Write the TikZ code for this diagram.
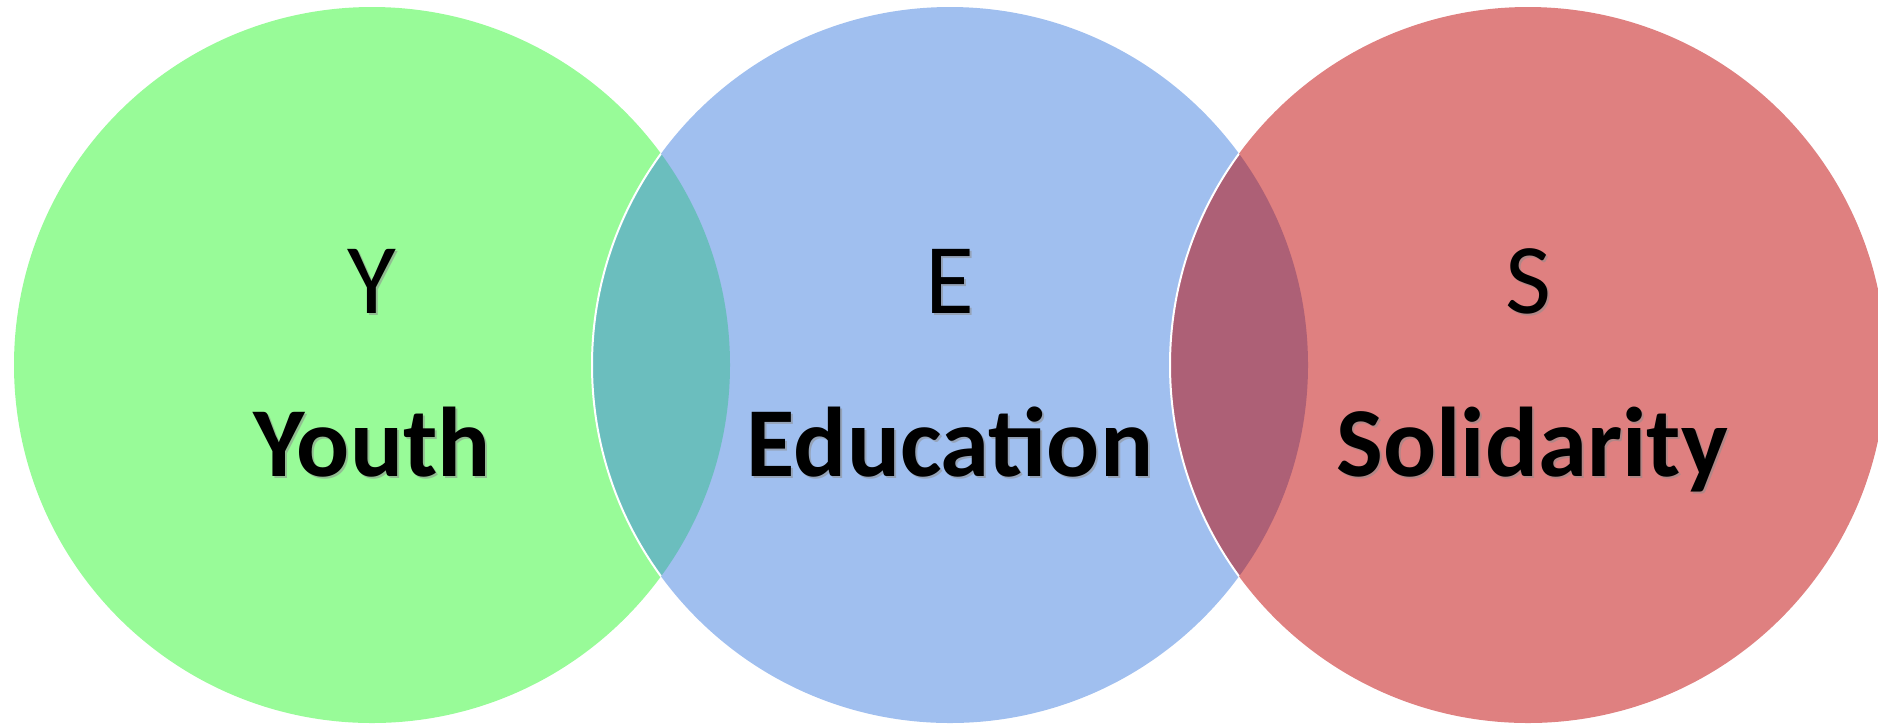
\documentclass[tikz,border=0pt]{standalone}
\usepackage{fontspec}
\setmainfont{Carlito}
\definecolor{cgreen}{RGB}{152,251,152}
\definecolor{cblue}{RGB}{160,191,239}
\definecolor{cred}{RGB}{223,128,128}
\definecolor{cteal}{RGB}{107,190,190}
\definecolor{cplum}{RGB}{173,96,118}
\tikzset{
  letterlabel/.style={anchor=base, inner sep=0pt, font=\fontsize{50}{60}\selectfont, text=black},
  wordlabel/.style={anchor=base, inner sep=0pt, font=\fontsize{49.5}{60}\selectfont\bfseries, text=black},
  shadowtext/.style={text=black!45, opacity=0.55},
  lensedge/.style={draw=white, line width=1pt},
}
\begin{document}
\begin{tikzpicture}[x=0.5pt,y=-0.5pt]
\useasboundingbox (0,0) rectangle (1878,725);
\clip (0,0) rectangle (1878,725);
\coordinate (cy) at (372,365);
\coordinate (ce) at (950,365);
\coordinate (cs) at (1528,365);
% circles
\fill[cgreen] (cy) circle[radius=179pt];
\fill[cblue] (ce) circle[radius=179pt];
\fill[cred] (cs) circle[radius=179pt];
% lens Y-E
\begin{scope}
  \clip (cy) circle[radius=179pt];
  \fill[cteal] (ce) circle[radius=179pt];
  \draw[lensedge] (ce) circle[radius=179pt];
\end{scope}
% lens E-S
\begin{scope}
  \clip (ce) circle[radius=179pt];
  \fill[cplum] (cs) circle[radius=179pt];
  \draw[lensedge] (cs) circle[radius=179pt];
\end{scope}
% shadows
\node[letterlabel, shadowtext] at (374,315) {Y};
\node[letterlabel, shadowtext] at (952,315) {E};
\node[letterlabel, shadowtext] at (1530,315) {S};
\node[wordlabel, shadowtext] at (374,478) {Youth};
\node[wordlabel, shadowtext] at (952,478) {Education};
\node[wordlabel, shadowtext] at (1534,478) {Solidarity};
% labels
\node[letterlabel] (ly) at (372,313) {Y};
\node[letterlabel] (le) at (950,313) {E};
\node[letterlabel] (ls) at (1528,313) {S};
\node[wordlabel] (wy) at (372,476) {Youth};
\node[wordlabel] (we) at (950,476) {Education};
\node[wordlabel] (ws) at (1532,476) {Solidarity};
\end{tikzpicture}
\end{document}
